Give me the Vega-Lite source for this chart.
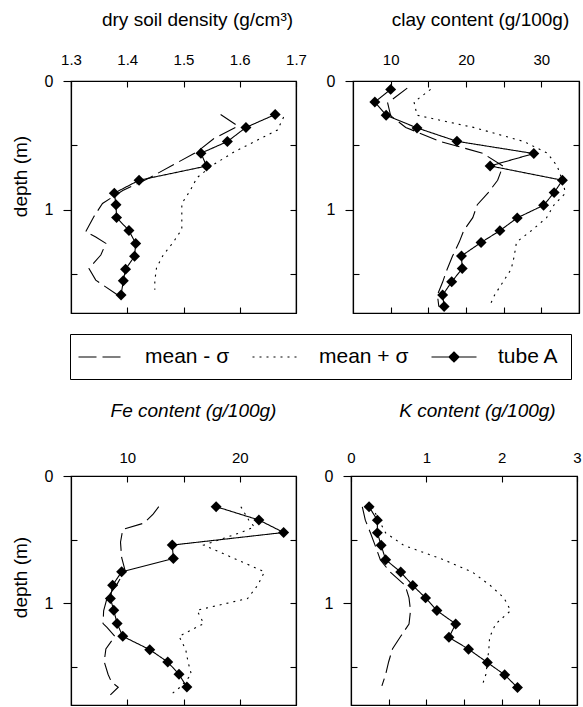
{
  "$schema": "https://vega.github.io/schema/vega-lite/v6.json",
  "padding": {"left": 10, "top": 9, "right": 2, "bottom": 0},
  "config": {
    "font": "Liberation Sans",
    "view": {"stroke": "black", "strokeWidth": 1.2},
    "axis": {"grid": false, "domainColor": "black", "tickColor": "black", "labelColor": "black", "titleColor": "black", "labelFont": "Liberation Sans", "titleFont": "Liberation Sans", "titleFontWeight": "normal", "domainWidth": 1.2, "tickWidth": 1.1, "labelFontSize": 15, "titleFontSize": 19, "labelFlush": false, "labelOverlap": false}
  },
  "datasets": {
    "density": [
      {"series": "tube A", "depth": 0.26, "value": 1.663},
      {"series": "tube A", "depth": 0.36, "value": 1.611},
      {"series": "tube A", "depth": 0.47, "value": 1.578},
      {"series": "tube A", "depth": 0.56, "value": 1.531},
      {"series": "tube A", "depth": 0.66, "value": 1.541},
      {"series": "tube A", "depth": 0.77, "value": 1.421},
      {"series": "tube A", "depth": 0.87, "value": 1.377},
      {"series": "tube A", "depth": 0.96, "value": 1.38},
      {"series": "tube A", "depth": 1.06, "value": 1.381},
      {"series": "tube A", "depth": 1.16, "value": 1.403},
      {"series": "tube A", "depth": 1.26, "value": 1.415},
      {"series": "tube A", "depth": 1.36, "value": 1.413},
      {"series": "tube A", "depth": 1.46, "value": 1.397},
      {"series": "tube A", "depth": 1.55, "value": 1.393},
      {"series": "tube A", "depth": 1.66, "value": 1.389},
      {"series": "mean - σ", "depth": 0.26, "value": 1.566},
      {"series": "mean - σ", "depth": 0.35, "value": 1.597},
      {"series": "mean - σ", "depth": 0.45, "value": 1.553},
      {"series": "mean - σ", "depth": 0.55, "value": 1.524},
      {"series": "mean - σ", "depth": 0.65, "value": 1.482},
      {"series": "mean - σ", "depth": 0.75, "value": 1.44},
      {"series": "mean - σ", "depth": 0.85, "value": 1.392},
      {"series": "mean - σ", "depth": 0.95, "value": 1.356},
      {"series": "mean - σ", "depth": 1.05, "value": 1.341},
      {"series": "mean - σ", "depth": 1.17, "value": 1.326},
      {"series": "mean - σ", "depth": 1.21, "value": 1.344},
      {"series": "mean - σ", "depth": 1.26, "value": 1.362},
      {"series": "mean - σ", "depth": 1.35, "value": 1.353},
      {"series": "mean - σ", "depth": 1.455, "value": 1.332},
      {"series": "mean - σ", "depth": 1.545, "value": 1.344},
      {"series": "mean - σ", "depth": 1.66, "value": 1.383},
      {"series": "mean + σ", "depth": 0.28, "value": 1.678},
      {"series": "mean + σ", "depth": 0.38, "value": 1.667},
      {"series": "mean + σ", "depth": 0.55, "value": 1.59},
      {"series": "mean + σ", "depth": 0.65, "value": 1.553},
      {"series": "mean + σ", "depth": 0.75, "value": 1.524},
      {"series": "mean + σ", "depth": 0.85, "value": 1.512},
      {"series": "mean + σ", "depth": 0.95, "value": 1.497},
      {"series": "mean + σ", "depth": 1.05, "value": 1.497},
      {"series": "mean + σ", "depth": 1.15, "value": 1.497},
      {"series": "mean + σ", "depth": 1.25, "value": 1.482},
      {"series": "mean + σ", "depth": 1.35, "value": 1.464},
      {"series": "mean + σ", "depth": 1.45, "value": 1.452},
      {"series": "mean + σ", "depth": 1.55, "value": 1.449},
      {"series": "mean + σ", "depth": 1.62, "value": 1.449}
    ],
    "clay": [
      {"series": "tube A", "depth": 0.065, "value": 10.0},
      {"series": "tube A", "depth": 0.163, "value": 7.9},
      {"series": "tube A", "depth": 0.266, "value": 9.4},
      {"series": "tube A", "depth": 0.364, "value": 13.5},
      {"series": "tube A", "depth": 0.468, "value": 18.8},
      {"series": "tube A", "depth": 0.563, "value": 29.0},
      {"series": "tube A", "depth": 0.659, "value": 23.2},
      {"series": "tube A", "depth": 0.77, "value": 32.8},
      {"series": "tube A", "depth": 0.866, "value": 31.7},
      {"series": "tube A", "depth": 0.964, "value": 30.3},
      {"series": "tube A", "depth": 1.062, "value": 26.8},
      {"series": "tube A", "depth": 1.161, "value": 24.5},
      {"series": "tube A", "depth": 1.253, "value": 22.0},
      {"series": "tube A", "depth": 1.357, "value": 19.4},
      {"series": "tube A", "depth": 1.455, "value": 19.5},
      {"series": "tube A", "depth": 1.558, "value": 18.1},
      {"series": "tube A", "depth": 1.661, "value": 16.9},
      {"series": "tube A", "depth": 1.75, "value": 17.1},
      {"series": "mean - σ", "depth": 0.055, "value": 12.2},
      {"series": "mean - σ", "depth": 0.17, "value": 9.6},
      {"series": "mean - σ", "depth": 0.27, "value": 10.0},
      {"series": "mean - σ", "depth": 0.36, "value": 12.0},
      {"series": "mean - σ", "depth": 0.47, "value": 16.6},
      {"series": "mean - σ", "depth": 0.56, "value": 22.2},
      {"series": "mean - σ", "depth": 0.66, "value": 24.9},
      {"series": "mean - σ", "depth": 0.77, "value": 24.2},
      {"series": "mean - σ", "depth": 0.87, "value": 22.9},
      {"series": "mean - σ", "depth": 0.96, "value": 21.5},
      {"series": "mean - σ", "depth": 1.06, "value": 20.9},
      {"series": "mean - σ", "depth": 1.16, "value": 19.7},
      {"series": "mean - σ", "depth": 1.25, "value": 19.1},
      {"series": "mean - σ", "depth": 1.36, "value": 18.2},
      {"series": "mean - σ", "depth": 1.46, "value": 17.5},
      {"series": "mean - σ", "depth": 1.56, "value": 16.9},
      {"series": "mean - σ", "depth": 1.66, "value": 16.2},
      {"series": "mean - σ", "depth": 1.75, "value": 16.4},
      {"series": "mean + σ", "depth": 0.065, "value": 15.3},
      {"series": "mean + σ", "depth": 0.163, "value": 13.1},
      {"series": "mean + σ", "depth": 0.266, "value": 13.5},
      {"series": "mean + σ", "depth": 0.36, "value": 21.0},
      {"series": "mean + σ", "depth": 0.47, "value": 27.7},
      {"series": "mean + σ", "depth": 0.56, "value": 30.8},
      {"series": "mean + σ", "depth": 0.66, "value": 32.1},
      {"series": "mean + σ", "depth": 0.77, "value": 32.8},
      {"series": "mean + σ", "depth": 0.87, "value": 33.2},
      {"series": "mean + σ", "depth": 0.96, "value": 31.7},
      {"series": "mean + σ", "depth": 1.06, "value": 30.7},
      {"series": "mean + σ", "depth": 1.16, "value": 28.7},
      {"series": "mean + σ", "depth": 1.25, "value": 26.7},
      {"series": "mean + σ", "depth": 1.36, "value": 26.4},
      {"series": "mean + σ", "depth": 1.46, "value": 26.0},
      {"series": "mean + σ", "depth": 1.56, "value": 24.9},
      {"series": "mean + σ", "depth": 1.66, "value": 23.8},
      {"series": "mean + σ", "depth": 1.75, "value": 23.1}
    ],
    "fe": [
      {"series": "tube A", "depth": 0.241, "value": 17.9},
      {"series": "tube A", "depth": 0.346, "value": 21.7},
      {"series": "tube A", "depth": 0.444, "value": 23.9},
      {"series": "tube A", "depth": 0.543, "value": 14.0},
      {"series": "tube A", "depth": 0.648, "value": 14.1},
      {"series": "tube A", "depth": 0.753, "value": 9.5},
      {"series": "tube A", "depth": 0.858, "value": 8.7},
      {"series": "tube A", "depth": 0.963, "value": 8.5},
      {"series": "tube A", "depth": 1.055, "value": 8.8},
      {"series": "tube A", "depth": 1.16, "value": 9.1},
      {"series": "tube A", "depth": 1.26, "value": 9.6},
      {"series": "tube A", "depth": 1.365, "value": 12.0},
      {"series": "tube A", "depth": 1.462, "value": 13.6},
      {"series": "tube A", "depth": 1.559, "value": 14.6},
      {"series": "tube A", "depth": 1.659, "value": 15.3},
      {"series": "mean - σ", "depth": 0.241, "value": 12.8},
      {"series": "mean - σ", "depth": 0.3, "value": 12.3},
      {"series": "mean - σ", "depth": 0.37, "value": 11.5},
      {"series": "mean - σ", "depth": 0.42, "value": 9.6},
      {"series": "mean - σ", "depth": 0.52, "value": 9.4},
      {"series": "mean - σ", "depth": 0.64, "value": 9.5},
      {"series": "mean - σ", "depth": 0.74, "value": 9.8},
      {"series": "mean - σ", "depth": 0.85, "value": 9.1},
      {"series": "mean - σ", "depth": 0.96, "value": 8.2},
      {"series": "mean - σ", "depth": 1.06, "value": 7.9},
      {"series": "mean - σ", "depth": 1.16, "value": 7.85},
      {"series": "mean - σ", "depth": 1.19, "value": 8.2},
      {"series": "mean - σ", "depth": 1.26, "value": 8.9},
      {"series": "mean - σ", "depth": 1.36, "value": 8.1},
      {"series": "mean - σ", "depth": 1.46, "value": 7.95},
      {"series": "mean - σ", "depth": 1.56, "value": 8.3},
      {"series": "mean - σ", "depth": 1.62, "value": 8.6},
      {"series": "mean - σ", "depth": 1.66, "value": 9.2},
      {"series": "mean - σ", "depth": 1.72, "value": 8.5},
      {"series": "mean + σ", "depth": 0.241, "value": 20.1},
      {"series": "mean + σ", "depth": 0.346, "value": 20.8},
      {"series": "mean + σ", "depth": 0.4, "value": 21.3},
      {"series": "mean + σ", "depth": 0.444, "value": 20.1},
      {"series": "mean + σ", "depth": 0.543, "value": 16.8},
      {"series": "mean + σ", "depth": 0.648, "value": 19.5},
      {"series": "mean + σ", "depth": 0.753, "value": 22.2},
      {"series": "mean + σ", "depth": 0.858, "value": 21.6},
      {"series": "mean + σ", "depth": 0.963, "value": 20.7},
      {"series": "mean + σ", "depth": 1.055, "value": 16.2},
      {"series": "mean + σ", "depth": 1.16, "value": 16.8},
      {"series": "mean + σ", "depth": 1.26, "value": 14.6},
      {"series": "mean + σ", "depth": 1.365, "value": 15.2},
      {"series": "mean + σ", "depth": 1.46, "value": 15.4},
      {"series": "mean + σ", "depth": 1.56, "value": 15.7},
      {"series": "mean + σ", "depth": 1.66, "value": 14.7},
      {"series": "mean + σ", "depth": 1.71, "value": 14.0}
    ],
    "k": [
      {"series": "tube A", "depth": 0.242, "value": 0.24},
      {"series": "tube A", "depth": 0.347, "value": 0.35},
      {"series": "tube A", "depth": 0.447, "value": 0.35},
      {"series": "tube A", "depth": 0.545, "value": 0.4},
      {"series": "tube A", "depth": 0.658, "value": 0.46},
      {"series": "tube A", "depth": 0.755, "value": 0.66},
      {"series": "tube A", "depth": 0.861, "value": 0.82},
      {"series": "tube A", "depth": 0.958, "value": 0.99},
      {"series": "tube A", "depth": 1.058, "value": 1.14},
      {"series": "tube A", "depth": 1.163, "value": 1.39},
      {"series": "tube A", "depth": 1.268, "value": 1.3},
      {"series": "tube A", "depth": 1.361, "value": 1.56},
      {"series": "tube A", "depth": 1.466, "value": 1.81},
      {"series": "tube A", "depth": 1.563, "value": 2.04},
      {"series": "tube A", "depth": 1.663, "value": 2.21},
      {"series": "mean - σ", "depth": 0.242, "value": 0.15},
      {"series": "mean - σ", "depth": 0.347, "value": 0.19},
      {"series": "mean - σ", "depth": 0.45, "value": 0.26},
      {"series": "mean - σ", "depth": 0.545, "value": 0.32},
      {"series": "mean - σ", "depth": 0.66, "value": 0.39},
      {"series": "mean - σ", "depth": 0.755, "value": 0.52},
      {"series": "mean - σ", "depth": 0.861, "value": 0.72},
      {"series": "mean - σ", "depth": 0.958, "value": 0.77},
      {"series": "mean - σ", "depth": 1.058, "value": 0.79},
      {"series": "mean - σ", "depth": 1.163, "value": 0.77},
      {"series": "mean - σ", "depth": 1.26, "value": 0.66},
      {"series": "mean - σ", "depth": 1.36, "value": 0.55},
      {"series": "mean - σ", "depth": 1.46, "value": 0.5},
      {"series": "mean - σ", "depth": 1.56, "value": 0.46},
      {"series": "mean - σ", "depth": 1.65, "value": 0.41},
      {"series": "mean + σ", "depth": 0.242, "value": 0.28},
      {"series": "mean + σ", "depth": 0.347, "value": 0.37},
      {"series": "mean + σ", "depth": 0.447, "value": 0.46},
      {"series": "mean + σ", "depth": 0.545, "value": 0.7},
      {"series": "mean + σ", "depth": 0.658, "value": 1.23},
      {"series": "mean + σ", "depth": 0.755, "value": 1.61},
      {"series": "mean + σ", "depth": 0.861, "value": 1.85},
      {"series": "mean + σ", "depth": 0.958, "value": 2.03},
      {"series": "mean + σ", "depth": 1.058, "value": 2.12},
      {"series": "mean + σ", "depth": 1.163, "value": 1.92},
      {"series": "mean + σ", "depth": 1.268, "value": 1.84},
      {"series": "mean + σ", "depth": 1.36, "value": 1.83},
      {"series": "mean + σ", "depth": 1.466, "value": 1.81},
      {"series": "mean + σ", "depth": 1.56, "value": 1.79},
      {"series": "mean + σ", "depth": 1.65, "value": 1.74}
    ]
  },
  "spacing": 85,
  "vconcat": [
    {
      "spacing": 17,
      "hconcat": [
        {
          "width": 225, "height": 232,
          "data": {"name": "density"},
          "layer": [
            {
              "transform": [{"filter": "datum.series !== 'tube A'"}],
              "mark": {"type": "line", "color": "black", "strokeWidth": 1.1},
              "encoding": {
                "x": {"field": "value", "type": "quantitative", "scale": {"domain": [1.3, 1.7], "nice": false, "zero": false},
                  "axis": {"orient": "top", "title": "dry soil density (g/cm³)", "values": [1.3, 1.4, 1.5, 1.6, 1.7], "format": ".1f", "tickSize": -6, "labelPadding": 20, "titleX": 126, "titlePadding": 23}},
                "y": {"field": "depth", "type": "quantitative", "scale": {"domain": [0, 1.8], "nice": false, "reverse": true},
                  "axis": {"orient": "left", "title": "depth (m)", "values": [0, 1], "labelExpr": "datum.value === 0 ? '0' : '1'", "tickSize": 8, "labelPadding": 10, "labelFontSize": 16, "titleX": -51, "titleY": 95, "titleBaseline": "middle", "titleAlign": "center"}},
                "strokeDash": {"field": "series", "type": "nominal", "scale": {"domain": ["mean - σ", "mean + σ", "tube A"], "range": [[18, 6], [2, 5], [1, 0]]},
                  "legend": {"title": null, "orient": "none", "direction": "horizontal", "legendX": -1, "legendY": 253, "strokeColor": "black", "padding": 12, "labelFontSize": 21, "labelFont": "Liberation Sans", "labelColor": "black", "symbolSize": 400, "symbolStrokeWidth": 1.2, "symbolStrokeColor": "black", "labelOffset": 41, "columnPadding": 20,
                    "encode": {"symbols": {"update": {"shape": {"signal": "datum.value === 'tube A' ? 'M-1.45,0L3.05,0M0.8,-0.5L1.3,0L0.8,0.5L0.3,0Z' : 'M-1.45,0L3.05,0'"}, "fill": {"value": "black"}, "stroke": {"value": "black"}}}}}},
                "order": {"field": "depth", "type": "quantitative"}
              }
            },
            {
              "transform": [{"filter": "datum.series === 'tube A'"}],
              "mark": {"type": "line", "color": "black", "strokeWidth": 1.1},
              "encoding": {
                "x": {"field": "value", "type": "quantitative", "axis": null},
                "y": {"field": "depth", "type": "quantitative", "axis": {"orient": "left", "title": null, "labels": false, "domain": false, "values": [0.5, 1.5], "tickSize": -6}},
                "strokeDash": {"field": "series", "type": "nominal"},
                "order": {"field": "depth", "type": "quantitative"}
              }
            },
            {
              "transform": [{"filter": "datum.series === 'tube A'"}],
              "mark": {"type": "point", "shape": "diamond", "filled": true, "color": "black", "size": 120, "opacity": 1},
              "encoding": {
                "x": {"field": "value", "type": "quantitative", "axis": {"orient": "bottom", "title": null, "labels": false, "values": [1.4, 1.5, 1.6], "tickSize": -6}},
                "y": {"field": "depth", "type": "quantitative", "axis": {"orient": "right", "title": null, "labels": false, "values": [0.5, 1, 1.5], "tickSize": -6}}
              }
            }
          ],
          "resolve": {"axis": {"x": "independent", "y": "independent"}}
        },
        {
          "width": 226, "height": 232,
          "data": {"name": "clay"},
          "layer": [
            {
              "transform": [{"filter": "datum.series !== 'tube A'"}],
              "mark": {"type": "line", "color": "black", "strokeWidth": 1.1},
              "encoding": {
                "x": {"field": "value", "type": "quantitative", "scale": {"domain": [5, 35], "nice": false, "zero": false},
                  "axis": {"orient": "top", "title": "clay content (g/100g)", "values": [10, 15, 20, 25, 30], "labelExpr": "datum.value % 10 === 0 ? datum.label : ''", "tickSize": -6, "labelPadding": 20, "titleX": 127, "titlePadding": 23}},
                "y": {"field": "depth", "type": "quantitative", "scale": {"domain": [0, 1.8], "nice": false, "reverse": true},
                  "axis": {"orient": "left", "title": null, "values": [0, 1], "labelExpr": "datum.value === 0 ? '0' : '1'", "tickSize": 8, "labelPadding": 10, "labelFontSize": 16}},
                "strokeDash": {"field": "series", "type": "nominal", "scale": {"domain": ["mean - σ", "mean + σ", "tube A"], "range": [[18, 6], [2, 5], [1, 0]]}},
                "order": {"field": "depth", "type": "quantitative"}
              }
            },
            {
              "transform": [{"filter": "datum.series === 'tube A'"}],
              "mark": {"type": "line", "color": "black", "strokeWidth": 1.1},
              "encoding": {
                "x": {"field": "value", "type": "quantitative", "axis": null},
                "y": {"field": "depth", "type": "quantitative", "axis": {"orient": "left", "title": null, "labels": false, "domain": false, "values": [0.5, 1.5], "tickSize": -6}},
                "strokeDash": {"field": "series", "type": "nominal"},
                "order": {"field": "depth", "type": "quantitative"}
              }
            },
            {
              "transform": [{"filter": "datum.series === 'tube A'"}],
              "mark": {"type": "point", "shape": "diamond", "filled": true, "color": "black", "size": 120, "opacity": 1},
              "encoding": {
                "x": {"field": "value", "type": "quantitative", "axis": {"orient": "bottom", "title": null, "labels": false, "values": [10, 15, 20, 25, 30], "tickSize": -6}},
                "y": {"field": "depth", "type": "quantitative", "axis": {"orient": "right", "title": null, "labels": false, "values": [0.5, 1, 1.5], "tickSize": -6}}
              }
            }
          ],
          "resolve": {"axis": {"x": "independent", "y": "independent"}}
        }
      ]
    },
    {
      "spacing": 25,
      "hconcat": [
        {
          "width": 225, "height": 229,
          "data": {"name": "fe"},
          "layer": [
            {
              "transform": [{"filter": "datum.series !== 'tube A'"}],
              "mark": {"type": "line", "color": "black", "strokeWidth": 1.1},
              "encoding": {
                "x": {"field": "value", "type": "quantitative", "scale": {"domain": [5, 25], "nice": false, "zero": false},
                  "axis": {"orient": "top", "title": "Fe content (g/100g)", "titleFontStyle": "italic", "values": [10, 15, 20], "labelExpr": "datum.value % 10 === 0 ? datum.label : ''", "tickSize": -6, "labelPadding": 17, "titleX": 122, "titlePadding": 30}},
                "y": {"field": "depth", "type": "quantitative", "scale": {"domain": [0, 1.8], "nice": false, "reverse": true},
                  "axis": {"orient": "left", "title": "depth (m)", "values": [0, 1], "labelExpr": "datum.value === 0 ? '0' : '1'", "tickSize": 8, "labelPadding": 10, "labelFontSize": 16, "titleX": -51, "titleY": 101, "titleBaseline": "middle", "titleAlign": "center"}},
                "strokeDash": {"field": "series", "type": "nominal", "scale": {"domain": ["mean - σ", "mean + σ", "tube A"], "range": [[18, 6], [2, 5], [1, 0]]}},
                "order": {"field": "depth", "type": "quantitative"}
              }
            },
            {
              "transform": [{"filter": "datum.series === 'tube A'"}],
              "mark": {"type": "line", "color": "black", "strokeWidth": 1.1},
              "encoding": {
                "x": {"field": "value", "type": "quantitative", "axis": null},
                "y": {"field": "depth", "type": "quantitative", "axis": {"orient": "left", "title": null, "labels": false, "domain": false, "values": [0.5, 1.5], "tickSize": -6}},
                "strokeDash": {"field": "series", "type": "nominal"},
                "order": {"field": "depth", "type": "quantitative"}
              }
            },
            {
              "transform": [{"filter": "datum.series === 'tube A'"}],
              "mark": {"type": "point", "shape": "diamond", "filled": true, "color": "black", "size": 120, "opacity": 1},
              "encoding": {
                "x": {"field": "value", "type": "quantitative", "axis": {"orient": "bottom", "title": null, "labels": false, "values": [10, 15, 20], "tickSize": -6}},
                "y": {"field": "depth", "type": "quantitative", "axis": {"orient": "right", "title": null, "labels": false, "values": [0.5, 1, 1.5], "tickSize": -6}}
              }
            }
          ],
          "resolve": {"axis": {"x": "independent", "y": "independent"}}
        },
        {
          "width": 226, "height": 229,
          "data": {"name": "k"},
          "layer": [
            {
              "transform": [{"filter": "datum.series !== 'tube A'"}],
              "mark": {"type": "line", "color": "black", "strokeWidth": 1.1},
              "encoding": {
                "x": {"field": "value", "type": "quantitative", "scale": {"domain": [0, 3], "nice": false, "zero": false},
                  "axis": {"orient": "top", "title": "K content (g/100g)", "titleFontStyle": "italic", "values": [0, 0.5, 1, 1.5, 2, 2.5, 3], "format": "d", "labelExpr": "datum.value % 1 === 0 ? datum.label : ''", "tickSize": -6, "labelPadding": 17, "titleX": 126, "titlePadding": 30}},
                "y": {"field": "depth", "type": "quantitative", "scale": {"domain": [0, 1.8], "nice": false, "reverse": true},
                  "axis": {"orient": "left", "title": null, "values": [0, 1], "labelExpr": "datum.value === 0 ? '0' : '1'", "tickSize": 8, "labelPadding": 10, "labelFontSize": 16}},
                "strokeDash": {"field": "series", "type": "nominal", "scale": {"domain": ["mean - σ", "mean + σ", "tube A"], "range": [[18, 6], [2, 5], [1, 0]]}},
                "order": {"field": "depth", "type": "quantitative"}
              }
            },
            {
              "transform": [{"filter": "datum.series === 'tube A'"}],
              "mark": {"type": "line", "color": "black", "strokeWidth": 1.1},
              "encoding": {
                "x": {"field": "value", "type": "quantitative", "axis": null},
                "y": {"field": "depth", "type": "quantitative", "axis": {"orient": "left", "title": null, "labels": false, "domain": false, "values": [0.5, 1.5], "tickSize": -6}},
                "strokeDash": {"field": "series", "type": "nominal"},
                "order": {"field": "depth", "type": "quantitative"}
              }
            },
            {
              "transform": [{"filter": "datum.series === 'tube A'"}],
              "mark": {"type": "point", "shape": "diamond", "filled": true, "color": "black", "size": 120, "opacity": 1},
              "encoding": {
                "x": {"field": "value", "type": "quantitative", "axis": {"orient": "bottom", "title": null, "labels": false, "values": [0.5, 1, 1.5, 2, 2.5], "tickSize": -6}},
                "y": {"field": "depth", "type": "quantitative", "axis": {"orient": "right", "title": null, "labels": false, "values": [0.5, 1, 1.5], "tickSize": -6}}
              }
            }
          ],
          "resolve": {"axis": {"x": "independent", "y": "independent"}}
        }
      ]
    }
  ]
}
